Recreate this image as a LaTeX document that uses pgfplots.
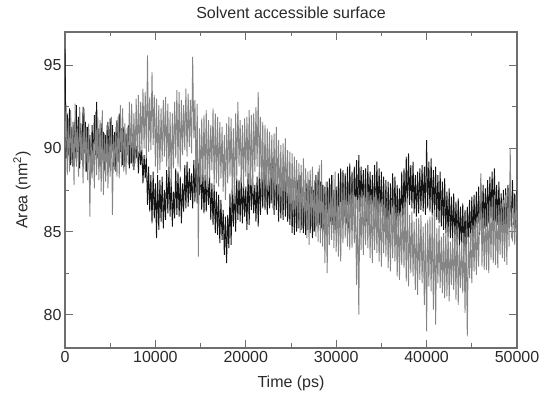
\documentclass[border=0pt]{standalone}
\usepackage{pgfplots}
\usepackage{pgfplotstable}
\pgfplotsset{compat=1.18}
\usepackage{fontspec}
\setmainfont{Liberation Sans}
\definecolor{axgray}{HTML}{6E6E6E}
\definecolor{txt}{HTML}{2A2A2A}
\definecolor{sergray}{HTML}{858585}
\definecolor{serblack}{HTML}{141414}

\pgfplotstableread{
t b g
0 96.0 90.0
125 89.4 92.6
250 92.1 88.4
375 89.6 91.8
500 92.4 88.6
625 89.0 92.3
750 91.3 89.1
875 88.9 91.6
1000 91.6 87.8
1125 89.4 92.7
1250 92.6 88.9
1375 89.8 91.2
1500 91.9 88.3
1625 88.8 92.5
1750 91.5 89.4
1875 89.3 91.0
2000 92.5 87.9
2125 89.7 92.4
2250 91.6 88.6
2375 88.6 91.3
2500 91.3 88.1
2625 89.2 91.5
2750 90.8 85.9
2875 88.4 90.8
3000 91.4 88.2
3125 89.1 90.4
3250 92.0 87.6
3375 89.6 92.2
3500 92.8 88.4
3625 89.4 91.9
3750 91.2 88.1
3875 88.9 91.7
4000 91.5 87.4
4125 89.3 92.3
4250 91.0 87.2
4375 88.7 90.9
4500 90.8 88.0
4625 89.2 91.4
4750 91.6 87.6
4875 88.9 90.6
5000 91.8 88.3
5125 89.5 91.9
5250 91.4 86.0
5375 88.9 90.8
5500 91.0 88.7
5625 88.6 91.3
5750 91.7 88.3
5875 89.2 91.9
6000 92.1 88.2
6125 89.8 92.6
6250 91.2 88.9
6375 89.0 92.4
6500 91.3 88.6
6625 88.9 91.5
6750 90.9 88.4
6875 89.6 91.2
7000 91.4 89.0
7125 88.8 92.8
7250 90.8 89.1
7375 89.1 92.7
7500 90.9 88.9
7625 88.7 92.1
7750 90.7 89.1
7875 89.4 93.0
8000 90.2 89.2
8125 88.5 93.2
8250 90.4 89.7
8375 89.0 92.8
8500 89.9 89.9
8625 87.9 93.6
8750 89.6 90.0
8875 88.2 93.4
9000 89.5 89.4
9125 86.6 95.6
9250 88.9 89.8
9375 86.2 93.1
9500 88.4 89.9
9625 85.5 94.6
9750 88.6 90.2
9875 85.8 93.2
10000 87.9 88.9
10125 84.6 93.0
10250 88.4 88.5
10375 85.1 92.6
10500 88.1 88.7
10625 85.6 92.4
10750 88.3 89.2
10875 85.2 92.9
11000 87.5 89.5
11125 85.7 93.1
11250 88.7 88.9
11375 86.1 92.7
11500 88.9 88.4
11625 85.9 92.2
11750 88.2 87.7
11875 85.3 92.1
12000 87.4 88.8
12125 85.8 92.8
12250 88.8 89.4
12375 86.0 93.5
12500 88.6 88.9
12625 85.9 93.4
12750 88.3 88.6
12875 85.5 92.9
13000 87.9 89.6
13125 86.2 92.6
13250 89.0 89.9
13375 86.4 93.6
13500 89.2 89.5
13625 86.5 93.3
13750 88.8 90.1
13875 86.9 92.9
14000 88.5 89.7
14125 86.4 95.5
14250 89.3 90.6
14375 86.8 92.9
14500 89.6 87.9
14625 86.7 92.7
14750 89.1 83.5
14875 87.2 91.2
15000 88.9 87.8
15125 86.3 91.8
15250 88.7 88.0
15375 86.1 92.0
15500 88.4 88.1
15625 86.2 92.3
15750 88.6 87.5
15875 86.6 91.7
16000 88.3 88.2
16125 85.7 91.4
16250 87.9 88.7
16375 85.4 92.4
16500 87.8 87.6
16625 84.9 92.1
16750 87.4 87.9
16875 84.8 91.9
17000 87.2 87.7
17125 84.3 91.6
17250 86.9 88.2
17375 84.5 91.3
17500 86.3 87.4
17625 83.6 90.8
17750 85.9 86.9
17875 83.1 91.5
18000 86.0 87.9
18125 84.0 91.9
18250 87.3 88.3
18375 84.2 91.8
18500 87.6 87.2
18625 85.3 91.2
18750 87.9 86.7
18875 85.0 92.1
19000 88.2 88.2
19125 85.7 92.8
19250 88.1 88.9
19375 85.6 91.7
19500 88.4 87.9
19625 85.5 91.4
19750 87.9 87.6
19875 85.9 91.8
20000 87.7 88.3
20125 85.1 91.9
20250 88.5 88.1
20375 85.4 92.3
20500 88.9 87.8
20625 86.3 92.0
20750 88.4 87.3
20875 86.1 92.1
21000 87.8 88.6
21125 85.6 92.5
21250 88.3 88.9
21375 85.3 93.4
21500 88.6 88.2
21625 86.0 91.9
21750 89.0 87.2
21875 86.4 91.6
22000 89.2 86.9
22125 86.3 91.4
22250 88.8 87.0
22375 86.0 91.2
22500 88.5 87.4
22625 86.4 91.0
22750 89.1 86.7
22875 86.7 90.8
23000 89.4 86.4
23125 86.0 90.9
23250 88.6 86.9
23375 86.3 91.3
23500 88.9 87.1
23625 85.6 90.5
23750 88.5 86.5
23875 85.8 90.2
24000 88.2 86.2
24125 85.7 90.3
24250 88.9 86.6
24375 85.9 90.6
24500 88.7 86.8
24625 85.6 89.9
24750 87.9 85.8
24875 85.4 89.8
25000 87.6 85.6
25125 84.9 89.7
25250 87.6 85.9
25375 84.8 89.5
25500 87.9 86.1
25625 85.0 89.3
25750 88.1 85.2
25875 85.2 89.1
26000 88.4 84.9
26125 85.1 89.0
26250 87.6 85.2
26375 84.9 89.4
26500 87.3 85.5
26625 84.8 88.8
26750 87.9 84.6
26875 85.1 88.6
27000 88.1 84.2
27125 84.9 88.7
27250 87.7 85.3
27375 84.6 88.9
27500 87.5 85.0
27625 85.0 88.1
27750 88.4 84.7
27875 85.3 88.3
28000 88.6 84.4
28125 85.4 89.0
28250 88.0 84.3
28375 85.2 89.3
28500 87.8 84.1
28625 85.1 87.8
28750 87.7 83.1
28875 84.9 88.0
29000 88.0 82.5
29125 85.3 87.5
29250 88.2 84.2
29375 85.6 87.8
29500 88.4 84.5
29625 85.4 88.4
29750 87.5 84.0
29875 85.1 88.6
30000 87.7 83.8
30125 85.2 87.3
30250 88.5 83.5
30375 85.4 87.6
30500 88.8 83.2
30625 85.7 88.0
30750 88.7 84.3
30875 85.9 88.2
31000 88.5 84.6
31125 85.5 87.6
31250 88.9 84.1
31375 85.2 87.3
31500 89.1 83.9
31625 86.0 87.9
31750 88.6 84.0
31875 86.3 88.1
32000 88.9 84.3
32125 85.9 87.1
32250 89.3 81.8
32375 85.7 86.9
32500 89.6 80.0
32625 86.2 87.2
32750 88.9 83.9
32875 86.5 87.4
33000 88.7 83.6
33125 85.9 87.6
33250 88.8 84.2
33375 85.6 87.9
33500 89.0 84.0
33625 86.2 87.4
33750 88.6 83.4
33875 86.0 87.2
34000 88.4 83.1
34125 85.5 87.3
34250 89.0 83.9
34375 85.3 87.5
34500 89.2 83.7
34625 86.0 87.0
34750 88.8 83.2
34875 85.8 86.8
35000 88.6 82.9
35125 85.2 87.0
35250 88.3 83.7
35375 85.0 87.3
35500 88.1 83.5
35625 84.9 86.8
35750 88.0 82.8
35875 84.7 86.6
36000 87.9 82.6
36125 85.1 86.9
36250 88.5 83.4
36375 85.4 87.1
36500 88.3 83.2
36625 85.0 86.5
36750 87.8 82.3
36875 84.9 86.3
37000 87.6 82.1
37125 85.3 86.2
37250 88.6 83.0
37375 85.5 86.4
37500 88.8 82.8
37625 86.0 86.8
37750 89.5 82.0
37875 86.2 87.0
38000 89.7 81.7
38125 86.6 86.0
38250 89.0 82.5
38375 86.4 86.2
38500 89.2 82.3
38625 86.1 85.6
38750 88.4 81.5
38875 85.9 85.8
39000 88.6 81.2
39125 86.1 85.8
39250 88.8 82.1
39375 86.3 86.0
39500 89.0 81.9
39625 86.2 85.3
39750 88.9 80.6
39875 86.0 85.5
40000 90.5 79.0
40125 86.4 85.7
40250 89.2 81.7
40375 86.2 85.9
40500 89.4 81.4
40625 86.0 86.1
40750 88.7 80.3
40875 85.8 86.3
41000 88.9 79.4
41125 85.7 85.2
41250 88.4 81.9
41375 85.5 85.4
41500 88.6 81.6
41625 85.3 84.7
41750 88.0 81.3
41875 85.1 84.9
42000 88.2 81.0
42125 84.9 85.1
42250 87.4 81.1
42375 84.7 85.3
42500 87.6 80.8
42625 84.6 84.4
42750 87.1 81.8
42875 84.4 84.6
43000 87.3 81.5
43125 84.4 85.3
43250 86.8 80.9
43375 84.2 85.5
43500 87.0 80.6
43625 84.1 84.2
43750 86.5 81.6
43875 83.9 84.4
44000 86.7 81.3
44125 83.8 84.9
44250 86.3 80.1
44375 83.6 85.1
44500 86.5 78.7
44625 84.3 84.7
44750 86.9 82.2
44875 84.1 84.9
45000 87.1 81.9
45125 84.4 85.4
45250 87.2 82.6
45375 84.6 85.6
45500 87.4 82.4
45625 84.6 85.9
45750 87.7 82.9
45875 84.8 86.1
46000 87.9 88.5
46125 85.0 82.9
46250 87.8 86.1
46375 85.2 82.7
46500 87.6 86.3
46625 85.3 82.7
46750 88.1 86.6
46875 85.5 82.5
47000 88.3 86.8
47125 85.8 83.3
47250 88.6 87.0
47375 85.6 83.1
47500 88.8 87.2
47625 85.6 83.0
47750 87.8 86.4
47875 85.4 82.8
48000 88.0 86.6
48125 85.1 83.6
48250 87.3 86.7
48375 84.9 83.4
48500 87.5 86.9
48625 85.0 83.2
48750 87.6 87.2
48875 84.8 83.0
49000 87.8 87.4
49125 85.5 84.1
49250 87.9 90.0
49375 85.3 84.7
49500 88.1 84.5
49625 85.4 87.0
49750 87.3 84.2
49875 85.2 87.2
50000 87.5 84.8
}\sas

\begin{document}
\begin{tikzpicture}
\path[use as bounding box] (-65pt,-47pt) rectangle (482pt,348pt);
\begin{axis}[
  at={(0pt,0pt)}, anchor=south west,
  width=452pt, height=316pt, scale only axis,
  xmin=0, xmax=50000, ymin=78, ymax=97,
  xtick={0,10000,20000,30000,40000,50000},
  ytick={80,85,90,95},
  minor x tick num=1, minor y tick num=1,
  scaled x ticks=false,
  /pgf/number format/1000 sep={},
  /pgf/number format/assume math mode=true,
  major tick length=8pt, minor tick length=4.5pt,
  tick style={axgray, line width=0.9pt},
  axis line style={axgray, line width=1.1pt},
  ticklabel style={font=\fontsize{16}{19}\selectfont, text=txt},
  title={Solvent accessible surface},
  title style={at={(0.5,1)}, anchor=base, yshift=7pt, font=\fontsize{16}{19}\selectfont, text=txt},
  xlabel={Time (ps)},
  xlabel style={at={(0.5,0)}, anchor=base, yshift=-40pt, font=\fontsize{16}{19}\selectfont, text=txt},
  ylabel={Area (nm\textsuperscript{2})},
  ylabel style={at={(0,0.5)}, anchor=base, yshift=37.5pt, font=\fontsize{16}{19}\selectfont, text=txt},
  clip=true,
]
\addplot[serblack, line width=0.9pt, no markers] table[x=t, y=b]{\sas};
\addplot[sergray, line width=0.9pt, no markers] table[x=t, y=g]{\sas};
\end{axis}
\end{tikzpicture}
\end{document}
